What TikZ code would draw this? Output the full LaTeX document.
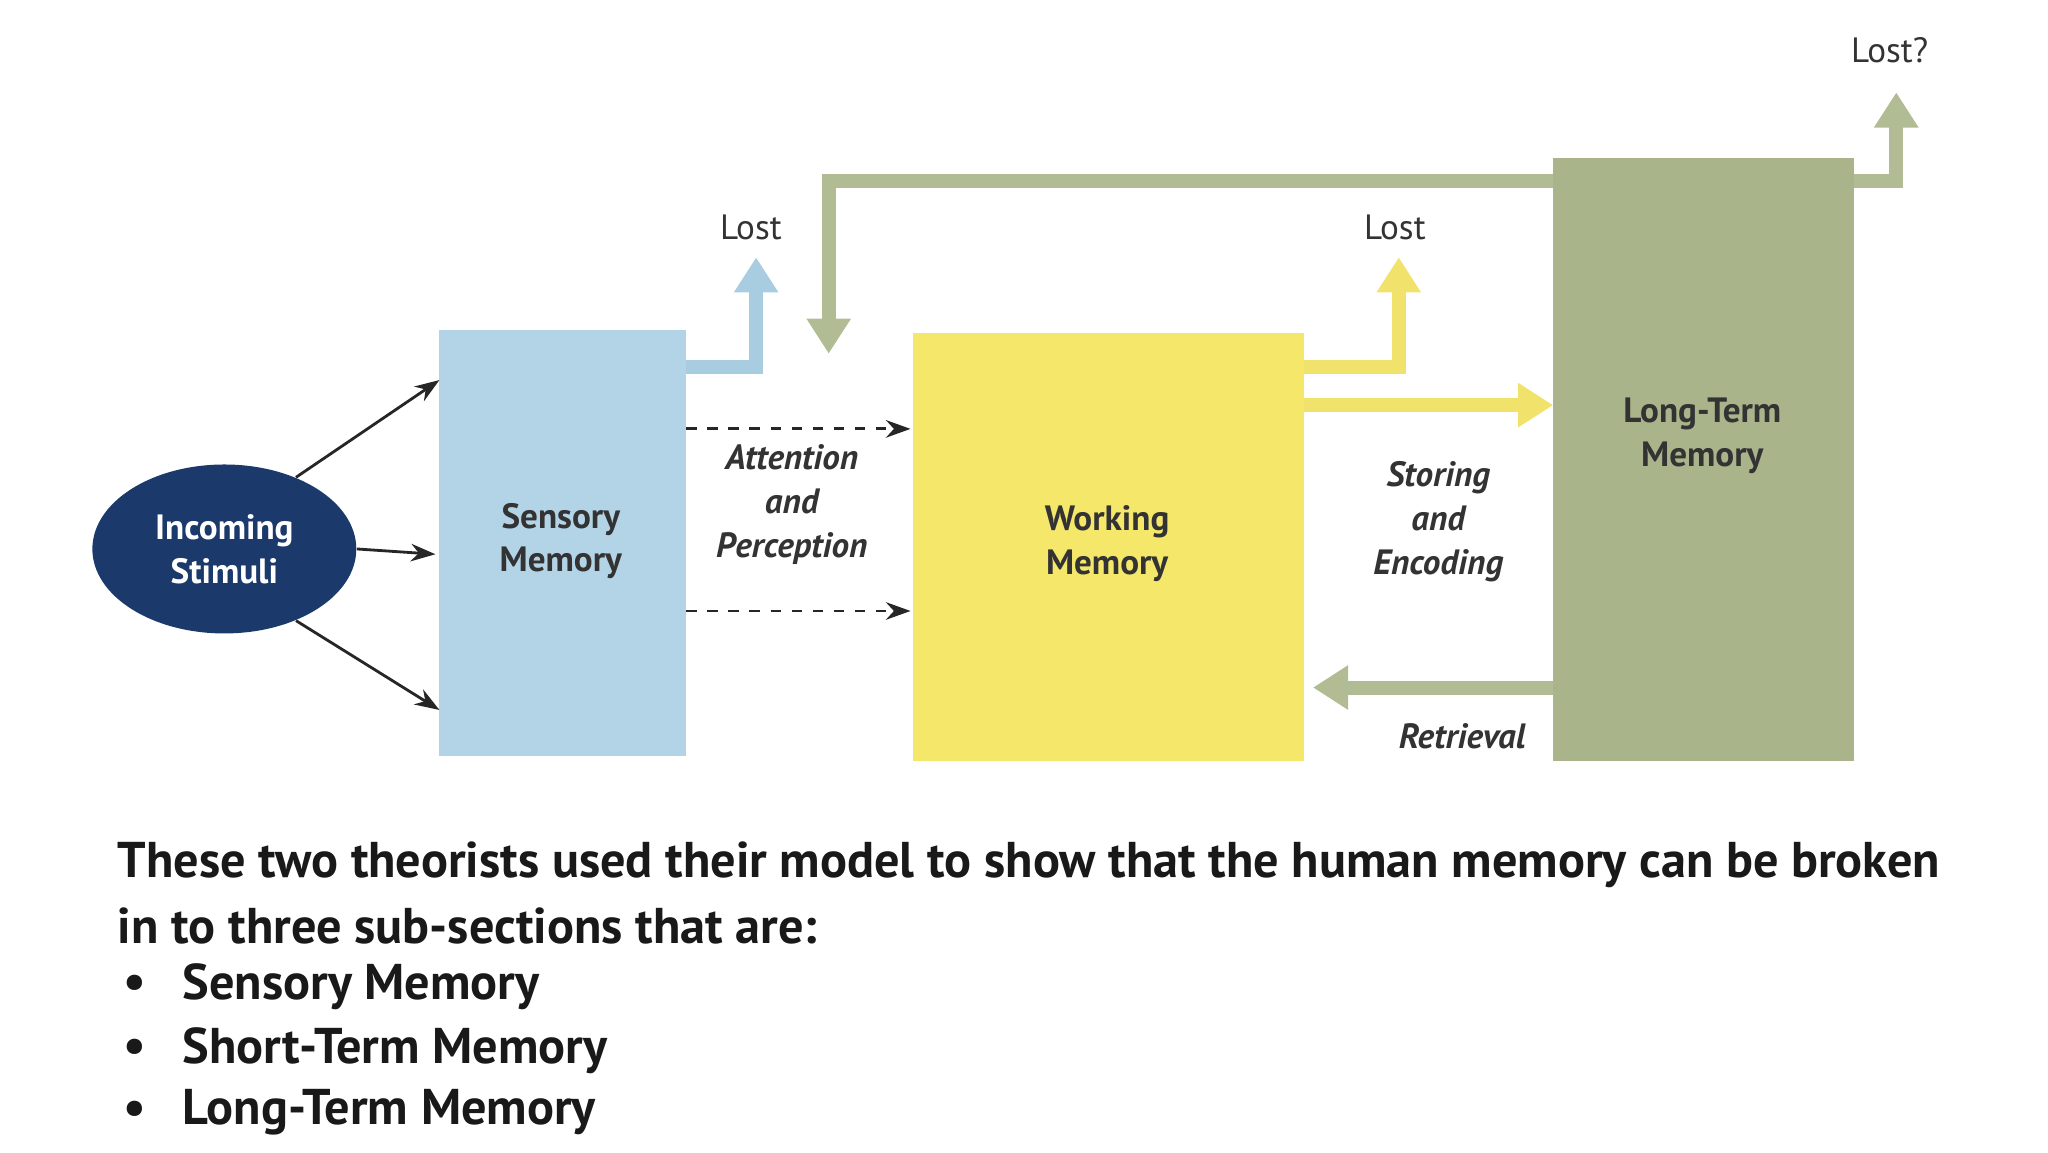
\documentclass[tikz,border=0pt]{standalone}
\usepackage{fontspec}
\setmainfont{PT Sans}
\newfontfamily\lab{PT Sans}
\usetikzlibrary{arrows.meta,shapes.geometric}
\definecolor{navy}{HTML}{1B3A6B}
\definecolor{sblue}{HTML}{B3D4E6}
\definecolor{wyel}{HTML}{F4E76A}
\definecolor{lgreen}{HTML}{A9B48A}
\definecolor{lgreenA}{HTML}{B2BC94}
\definecolor{blueA}{HTML}{A9CDE0}
\definecolor{yelA}{HTML}{F0E26A}
\begin{document}
\begin{tikzpicture}[x=0.0132cm,y=-0.0132cm,
  lbl/.style={font=\lab\bfseries\fontsize{10}{12.5}\selectfont,align=center,text=black!80},
  ilbl/.style={font=\lab\bfseries\itshape\fontsize{10}{12.5}\selectfont,align=center,text=black!80},
  thin/.style={-{Stealth[length=7pt,width=5pt]},black!85,line width=0.8pt},
  fat/.style={line width=4pt,-{Triangle[length=10pt,width=12pt]}},
  btxt/.style={font=\bfseries\fontsize{14.3}{18}\selectfont,anchor=west,text=black!90}]
\useasboundingbox (0,0) rectangle (1552,873);
\fill[sblue] (333,250) rectangle (520,573);
\node[lbl] (sm) at (425,410) {Sensory\\Memory};
\fill[wyel] (692,252) rectangle (988,577);
\node[lbl] (wm) at (839,412) {Working\\Memory};
\fill[lgreen] (1177,120) rectangle (1405,577);
\node[lbl] (ltm) at (1290,330) {Long-Term\\Memory};
\node[ellipse,fill=navy,inner sep=0pt,
  minimum width=2.64cm,minimum height=1.69cm,text=white,
  font=\lab\bfseries\fontsize{10}{12.5}\selectfont,align=center] (is) at (170,416) {Incoming\\Stimuli};
\coordinate (s1) at (333,288); \coordinate (s2) at (330,420); \coordinate (s3) at (333,538);
\draw[thin] (is.45) -- (s1);
\draw[thin] (is.east) -- (s2);
\draw[thin] (is.-45) -- (s3);
\coordinate (sa) at (520,325); \coordinate (wa) at (690,325);
\coordinate (sb) at (520,463); \coordinate (wb) at (690,463);
\draw[thin,dashed] (sa) -- (wa);
\draw[thin,dashed] (sb) -- (wb);
\node[ilbl] (ap) at (600,382) {Attention\\and\\Perception};
\coordinate (b0) at (520,278); \coordinate (b1) at (573,195);
\draw[fat,blueA] (b0) -| (b1);
\node[font=\lab\fontsize{10}{12}\selectfont,text=black!80] (l1) at (569,172) {Lost};
\coordinate (y0) at (988,278); \coordinate (y1) at (1060,195);
\draw[fat,yelA] (y0) -| (y1);
\node[font=\lab\fontsize{10}{12}\selectfont,text=black!80] (l2) at (1057,172) {Lost};
\coordinate (y2) at (988,307); \coordinate (y3) at (1177,307);
\draw[fat,yelA] (y2) -- (y3);
\node[ilbl] (se) at (1090,395) {Storing\\and\\Encoding};
\coordinate (r0) at (1177,521); \coordinate (r1) at (995,521);
\draw[fat,lgreenA] (r0) -- (r1);
\node[ilbl] (rt) at (1108,558) {Retrieval};
\coordinate (t0) at (1177,137); \coordinate (t1) at (628,268);
\draw[fat,lgreenA] (t0) -| (t1);
\coordinate (q0) at (1405,137); \coordinate (q1) at (1437,70);
\draw[fat,lgreenA] (q0) -| (q1);
\node[font=\lab\fontsize{10}{12}\selectfont,text=black!80] (l3) at (1432,38) {Lost?};
\node[btxt] (t1a) at (80,655) {These two theorists used their model to show that the human memory can be broken};
\node[btxt] (t1b) at (80,702) {in to three sub-sections that are:};
\foreach \y/\t [count=\i] in {748/Sensory Memory,796/Short-Term Memory,843/Long-Term Memory}{
  \node[btxt] (bu\i) at (84,\y) {•};
  \node[btxt] (bt\i) at (129,\y) {\t};}
\end{tikzpicture}
\end{document}
